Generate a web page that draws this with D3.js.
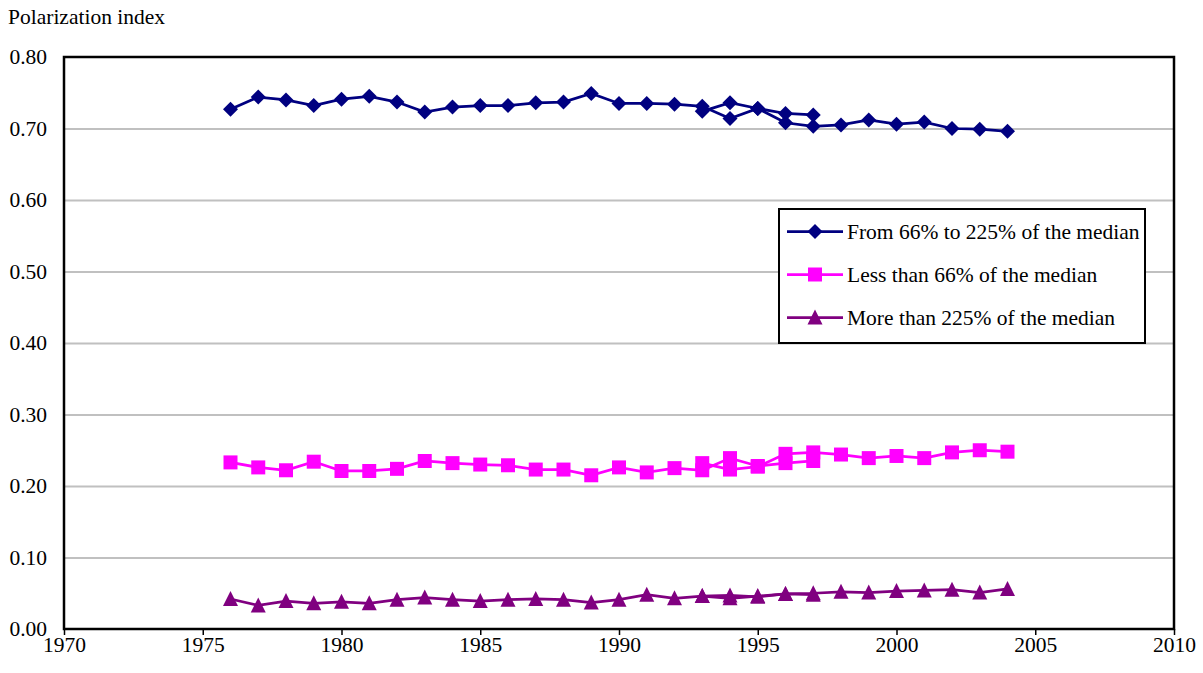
<!DOCTYPE html>
<html>
<head>
<meta charset="utf-8">
<script src="https://cdn.jsdelivr.net/npm/d3@7"></script>
<style>
  html, body { margin: 0; padding: 0; background: #fff; }
  svg { display: block; }
  text { font-family: "Liberation Serif", "Times New Roman", serif; fill: #000; }
</style>
</head>
<body>
<svg id="chart" width="1203" height="673"></svg>
<script>
// ---- Data ----
const yearsOld = [1976,1977,1978,1979,1980,1981,1982,1983,1984,1985,1986,1987,1988,1989,1990,1991,1992,1993,1994,1995,1996,1997];
const yearsNew = [1993,1994,1995,1996,1997,1998,1999,2000,2001,2002,2003,2004];

const middleOld = [0.727,0.744,0.740,0.732,0.741,0.745,0.737,0.723,0.730,0.732,0.732,0.736,0.737,0.749,0.735,0.735,0.734,0.731,0.714,0.728,0.721,0.719];
const middleNew = [0.724,0.736,0.728,0.708,0.703,0.705,0.712,0.706,0.709,0.700,0.699,0.696];

const lowOld = [0.233,0.226,0.222,0.234,0.221,0.221,0.224,0.235,0.232,0.230,0.229,0.223,0.223,0.215,0.226,0.219,0.225,0.222,0.239,0.228,0.232,0.235];
const lowNew = [0.232,0.223,0.227,0.245,0.247,0.244,0.239,0.242,0.239,0.247,0.250,0.248];

const highOld = [0.042,0.033,0.039,0.036,0.038,0.036,0.041,0.044,0.041,0.039,0.041,0.042,0.041,0.037,0.041,0.048,0.043,0.046,0.047,0.045,0.049,0.048];
const highNew = [0.046,0.043,0.046,0.049,0.050,0.052,0.051,0.053,0.054,0.055,0.051,0.056];

const seriesNames = ["From 66% to 225% of the median", "Less than 66% of the median", "More than 225% of the median"];
const xTicks = [1970,1975,1980,1985,1990,1995,2000,2005,2010];
const yTicks = [0,0.1,0.2,0.3,0.4,0.5,0.6,0.7,0.8];
const yAxisTitle = "Polarization index";

// ---- Layout ----
const svg = d3.select("#chart");
const L = 64, R = 1174, T = 57, B = 629;
const FS = "21.5px";
const x = d3.scaleLinear().domain([1970, 2010]).range([L, R]);
const y = d3.scaleLinear().domain([0, 0.8]).range([B, T]);

const colors = ["#000080", "#FF00FF", "#800080"];
const shapes = ["diamond", "square", "triangle"];

function markerPath(shape) {
  if (shape === "diamond") return "M0,-7.5L7.5,0L0,7.5L-7.5,0Z";
  if (shape === "square") return "M-7,-7H7V7H-7Z";
  return "M0,-8L7.5,7H-7.5Z";
}

// gridlines
svg.append("g")
  .attr("transform", `translate(${L},0)`)
  .call(d3.axisLeft(y).tickValues(yTicks.filter(v => v > 0 && v < 0.8)).tickSize(-(R - L)).tickFormat(""))
  .call(g => g.select(".domain").remove())
  .call(g => g.selectAll("line").attr("stroke", "#c0c0c0").attr("stroke-width", 2));

// y tick labels
svg.append("g")
  .attr("transform", `translate(${L},0)`)
  .call(d3.axisLeft(y).tickValues(yTicks).tickSize(0).tickPadding(17).tickFormat(d3.format(".2f")))
  .call(g => g.select(".domain").remove())
  .call(g => g.selectAll("text").style("font-family", "'Liberation Serif', serif").style("font-size", FS).attr("fill", "#000"));

// x axis
svg.append("g")
  .attr("transform", `translate(0,${B})`)
  .call(d3.axisBottom(x).tickValues(xTicks).tickSize(6).tickPadding(2).tickFormat(d3.format("d")))
  .call(g => g.select(".domain").remove())
  .call(g => g.selectAll("line").attr("stroke", "#000").attr("stroke-width", 1.5))
  .call(g => g.selectAll("text").style("font-family", "'Liberation Serif', serif").style("font-size", FS).attr("fill", "#000"));

// plot frame
svg.append("rect")
  .attr("x", L).attr("y", T).attr("width", R - L).attr("height", B - T)
  .attr("fill", "none").attr("stroke", "#000").attr("stroke-width", 2.5);

// axis title
svg.append("text").attr("x", 8).attr("y", 24).style("font-size", FS).text(yAxisTitle);

// series
const series = [
  { name: seriesNames[0], c: 0, years: yearsOld, vals: middleOld },
  { name: seriesNames[1], c: 1, years: yearsOld, vals: lowOld },
  { name: seriesNames[2], c: 2, years: yearsOld, vals: highOld },
  { name: seriesNames[0], c: 0, years: yearsNew, vals: middleNew },
  { name: seriesNames[1], c: 1, years: yearsNew, vals: lowNew },
  { name: seriesNames[2], c: 2, years: yearsNew, vals: highNew }
];

const line = d3.line().x(d => x(d[0])).y(d => y(d[1]));

series.forEach(s => {
  const pts = s.years.map((yr, i) => [yr, s.vals[i]]);
  const g = svg.append("g");
  g.append("path").datum(pts).attr("d", line)
    .attr("fill", "none").attr("stroke", colors[s.c]).attr("stroke-width", 2.75);
  g.selectAll("path.m").data(pts).enter().append("path").attr("class", "m")
    .attr("transform", d => `translate(${x(d[0])},${y(d[1])})`)
    .attr("d", markerPath(shapes[s.c]))
    .attr("fill", colors[s.c]);
});

// legend
const lg = svg.append("g");
lg.append("rect").attr("x", 779).attr("y", 209).attr("width", 366).attr("height", 134)
  .attr("fill", "#fff").attr("stroke", "#000").attr("stroke-width", 2);
const rowY = [231.5, 274.5, 317.5];
seriesNames.forEach((n, i) => {
  lg.append("line").attr("x1", 787).attr("x2", 843).attr("y1", rowY[i]).attr("y2", rowY[i])
    .attr("stroke", colors[i]).attr("stroke-width", 2.75);
  lg.append("path").attr("transform", `translate(815,${rowY[i]})`).attr("d", markerPath(shapes[i])).attr("fill", colors[i]);
  lg.append("text").attr("x", 847).attr("y", rowY[i] + 7).style("font-size", FS).text(n);
});
</script>
</body>
</html>
